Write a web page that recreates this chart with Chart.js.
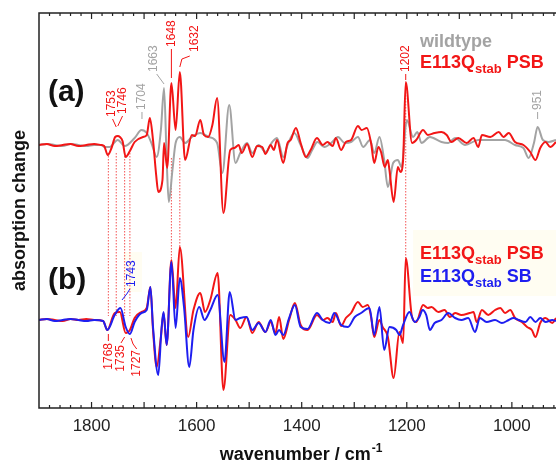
<!DOCTYPE html>
<html lang="en">
<head>
    <meta charset="UTF-8">
    <title>FTIR difference spectra</title>
    <script src="https://cdn.jsdelivr.net/npm/chart.js"></script>
    <style>
        html, body { margin: 0; padding: 0; background: #fff; }
        #wrap { width: 556px; height: 464px; }
    </style>
</head>
<body>
    <div id="wrap"><canvas id="spectra"></canvas></div>
<script>
// wavenumbers (cm-1) and absorption change for each trace
const wnRedA = [1900,1885,1870,1855,1840,1825,1810,1795,1782,1776,
    1769,1762,1755,1750,1746,1741,1735,1727,1718,1702,
    1695,1689,1683,1677,1673,1665,1662,1656,1648,1640,
    1632,1622,1609,1603,1593,1586,1578,1570,1561,1549,
    1536,1528,1520,1514,1504,1494,1485,1475,1469,1459,
    1453,1447,1435,1427,1421,1411,1402,1392,1383,1371,
    1360,1351,1341,1335,1325,1316,1306,1293,1286,1276,
    1268,1262,1254,1249,1242,1236,1233,1225,1217,1212,
    1207,1202,1190,1182,1169,1160,1147,1134,1124,1115,
    1102,1086,1073,1064,1057,1041,1025,1016,1006,994,
    978,965,955,946,936,927,916];
const redA = [0,1,-1,0,1,-1,0,1,0,-1,
    -10,-3,8,9,8,4,-12,-6,3,8,
    10,27,5,-30,-47,-35,2,-23,62,15,
    73,-15,10,9,25,10,8,20,47,-68,
    -5,-3,0,-8,1,-12,-1,-2,-9,0,
    -5,5,-18,2,5,17,2,-12,-5,7,
    0,3,-1,7,-5,3,5,19,15,17,
    2,-18,-2,-7,-22,-15,-25,-57,-22,-27,
    -15,63,2,5,15,10,12,13,10,3,
    7,2,7,-2,10,8,13,8,12,3,
    0,-7,-15,-3,3,-2,3];

const wnGrayA = [1900,1885,1870,1855,1840,1825,1810,1795,1782,1775,
    1766,1750,1737,1718,1705,1695,1686,1676,1668,1662,
    1657,1653,1646,1640,1632,1622,1609,1593,1577,1561,
    1551,1538,1526,1517,1504,1494,1482,1469,1456,1447,
    1435,1427,1414,1402,1389,1380,1370,1357,1344,1331,
    1318,1306,1293,1283,1270,1262,1252,1243,1236,1226,
    1217,1210,1200,1188,1180,1172,1156,1134,1121,1108,
    1089,1064,1038,1013,994,978,968,958,951,941,
    930,916];
const grayA = [0,1,0,-1,1,0,-1,0,0,-2,
    -2,5,-1,7,15,12,2,-12,15,57,
    -15,-57,-25,2,8,2,8,12,8,2,
    -28,40,-18,-8,2,-8,0,-7,3,7,
    -12,0,12,0,-13,-5,3,-2,2,8,
    2,3,8,-2,5,-8,8,-15,-42,-18,
    -15,-22,25,8,13,2,8,3,2,7,
    0,5,5,5,0,-3,-13,2,18,5,
    3,5];

const wnRedB = [1900,1885,1870,1855,1840,1825,1810,1795,1778,1770,
    1756,1746,1735,1727,1718,1705,1695,1688,1683,1676,
    1668,1663,1657,1648,1640,1632,1616,1606,1593,1584,
    1574,1560,1549,1536,1526,1517,1505,1494,1482,1469,
    1459,1450,1443,1435,1424,1413,1402,1389,1371,1360,
    1351,1341,1335,1325,1316,1306,1293,1284,1274,1268,
    1262,1252,1246,1236,1225,1214,1207,1202,1190,1182,
    1169,1160,1153,1140,1128,1118,1108,1096,1080,1073,
    1067,1057,1045,1032,1022,1013,1003,994,981,971,
    962,955,946,936,923,916];
const redB = [0,1,0,-1,1,0,1,0,-1,-10,
    7,8,-13,-10,2,8,12,33,-10,-47,
    -17,7,-25,60,12,73,-17,10,27,8,
    20,47,-70,5,0,-8,3,-13,-2,-12,
    -2,-13,3,-19,0,17,-5,-10,5,0,
    2,-2,7,-6,2,7,18,13,15,3,
    -17,0,-7,-17,-58,-12,-23,62,3,-2,
    15,12,13,8,10,3,7,5,7,8,
    -2,10,5,10,12,7,10,2,-2,-7,
    -10,-17,-3,2,-3,2];

const wnBlueB = [1900,1885,1870,1855,1840,1825,1810,1795,1778,1770,
    1756,1745,1735,1727,1718,1705,1695,1688,1683,1673,
    1667,1663,1657,1648,1640,1632,1624,1614,1606,1595,
    1585,1574,1560,1547,1537,1526,1517,1505,1494,1482,
    1469,1459,1450,1443,1435,1424,1413,1402,1389,1371,
    1360,1347,1338,1325,1312,1299,1287,1271,1262,1252,
    1243,1233,1220,1214,1207,1195,1185,1176,1170,1163,
    1156,1147,1134,1121,1108,1096,1083,1070,1061,1048,
    1032,1019,1006,997,987,974,965,955,946,936,
    923,916];
const blueB = [0,1,-1,0,1,0,-1,0,-1,-10,
    5,12,-7,-14,-2,7,10,33,-7,-55,
    -10,8,-25,58,-8,42,13,-47,-10,13,
    0,10,25,-42,28,0,2,3,-10,-3,
    -12,0,-15,-10,-15,2,15,-7,-9,7,
    0,-3,7,-5,-7,3,7,12,-15,13,
    -30,-7,-10,-15,-5,8,-2,3,10,5,
    -10,-3,0,7,2,0,2,-12,2,-2,
    0,-3,0,2,0,-2,3,-2,2,-2,
    0,-1];

const xTickLabels = [1800, 1600, 1400, 1200, 1000];
const markedBands = [1768, 1753, 1737, 1727];   // dotted guides between (a) and (b)

// trace (a) sits above trace (b); each is shifted by its own baseline
const BASE_A = 263, BASE_B = 88;
const RED = '#f21616', GRAY = '#a3a3a3', BLUE = '#1e1ef0';
const FONT = '"Liberation Sans", Arial, sans-serif';

function pts(wn, v, base) {
    return wn.map(function (w, i) { return { x: w, y: base + v[i] }; });
}

// peak labels: position in wavenumber / y-units, leader line points
const peakLabels = [
    { t: '1753', c: RED,  w: 1761, u: 291, lead: [[1760, 289], [1753, 281]] },
    { t: '1746', c: RED,  w: 1740, u: 294, lead: [[1741, 292], [1750, 282]] },
    { t: '1704', c: GRAY, w: 1704, u: 298, lead: [[1704, 296], [1704, 289]] },
    { t: '1663', c: GRAY, w: 1681, u: 336, lead: [[1676, 334], [1662, 324]] },
    { t: '1648', c: RED,  w: 1647, u: 361, lead: [[1648, 359], [1648, 330]] },
    { t: '1632', c: RED,  w: 1603, u: 356, lead: [[1613, 352], [1628, 349], [1632, 341]] },
    { t: '1202', c: RED,  w: 1202, u: 336, lead: [[1202, 334], [1202, 328]] },
    { t: '951',  c: GRAY, w: 951,  u: 298, lead: [[951, 296], [951, 289]] },
    { t: '1743', c: BLUE, w: 1723, u: 121, lead: [[1727, 119], [1733, 114], [1742, 108]] },
    { t: '1768', c: RED,  w: 1767, u: 65, end: true, lead: [[1768, 67], [1768, 74]] },
    { t: '1735', c: RED,  w: 1744, u: 63, end: true, lead: [[1744, 65], [1737, 71]] },
    { t: '1727', c: RED,  w: 1714, u: 58, end: true, lead: [[1714, 59], [1721, 64], [1725, 70]] }
];

const decor = {
    id: 'decor',
    beforeDatasetsDraw(chart) {
        const ctx = chart.ctx, ca = chart.chartArea;
        const X = w => chart.scales.x.getPixelForValue(w);
        const Y = u => chart.scales.y.getPixelForValue(u);
        ctx.save();
        // pale boxes behind the (b) legend and the 1743 label
        ctx.fillStyle = '#fffdf2';
        ctx.fillRect(X(1188), Y(178), ca.right - X(1188), Y(112) - Y(178));
        ctx.fillRect(X(1739), Y(156), X(1704) - X(1739), Y(116) - Y(156));
        // dotted guides
        ctx.strokeStyle = 'rgba(240,40,40,0.8)';
        ctx.lineWidth = 1;
        ctx.setLineDash([1.5, 1.5]);
        const guides = markedBands.map(w => [w, 255, 92]).concat([[1648, 250, 146], [1632, 250, 161], [1202, 325, 150]]);
        guides.forEach(function (g) {
            ctx.beginPath();
            ctx.moveTo(X(g[0]), Y(g[1]));
            ctx.lineTo(X(g[0]), Y(g[2]));
            ctx.stroke();
        });
        ctx.restore();
    },
    afterDraw(chart) {
        const ctx = chart.ctx, ca = chart.chartArea;
        const X = w => chart.scales.x.getPixelForValue(w);
        const Y = u => chart.scales.y.getPixelForValue(u);
        ctx.save();

        // frame (right side is cut off in the original)
        ctx.strokeStyle = '#222';
        ctx.lineWidth = 1.5;
        ctx.beginPath();
        ctx.moveTo(ca.right, ca.top); ctx.lineTo(ca.left, ca.top);
        ctx.lineTo(ca.left, ca.bottom); ctx.lineTo(ca.right, ca.bottom);
        ctx.stroke();

        // inward ticks, top and bottom
        ctx.lineWidth = 1.2;
        for (let w = 1880; w >= 920; w -= 20) {
            const len = (w % 100 === 0) ? 6 : 3;
            const px = X(w);
            ctx.beginPath();
            ctx.moveTo(px, ca.bottom); ctx.lineTo(px, ca.bottom - len);
            ctx.moveTo(px, ca.top); ctx.lineTo(px, ca.top + len);
            ctx.stroke();
        }

        // peak labels with leaders
        ctx.lineWidth = 1;
        peakLabels.forEach(function (p) {
            ctx.strokeStyle = p.c;
            ctx.beginPath();
            p.lead.forEach(function (q, i) {
                if (i === 0) ctx.moveTo(X(q[0]), Y(q[1]));
                else ctx.lineTo(X(q[0]), Y(q[1]));
            });
            ctx.stroke();
            ctx.save();
            ctx.translate(X(p.w), Y(p.u));
            ctx.rotate(-Math.PI / 2);
            ctx.fillStyle = p.c;
            ctx.font = '12px ' + FONT;
            ctx.textAlign = p.end ? 'right' : 'left';
            ctx.textBaseline = 'middle';
            ctx.fillText(p.t, 0, 0);
            ctx.restore();
        });

        // legend-like labels with subscripts
        function rich(parts, x, y, color) {
            ctx.fillStyle = color;
            ctx.textAlign = 'left';
            ctx.textBaseline = 'alphabetic';
            parts.forEach(function (s) {
                ctx.font = 'bold ' + s[1] + 'px ' + FONT;
                ctx.fillText(s[0], x, y + (s[2] || 0));
                x += ctx.measureText(s[0]).width;
            });
        }
        const lx = X(1175);
        rich([['wildtype', 18]], lx, Y(361), GRAY);
        rich([['E113Q', 18], ['stab', 13, 5], [' PSB', 18]], lx, Y(340), RED);
        rich([['E113Q', 18], ['stab', 13, 5], [' PSB', 18]], lx, Y(149), RED);
        rich([['E113Q', 18], ['stab', 13, 5], [' SB', 18]], lx, Y(126), BLUE);

        // panel letters
        ctx.fillStyle = '#111';
        ctx.font = 'bold 30px ' + FONT;
        ctx.fillText('(a)', X(1883), Y(307));
        ctx.fillText('(b)', X(1883), Y(119));

        // axis titles
        ctx.save();
        ctx.translate(20, (ca.top + ca.bottom) / 2);
        ctx.rotate(-Math.PI / 2);
        ctx.font = 'bold 18px ' + FONT;
        ctx.textAlign = 'center';
        ctx.textBaseline = 'middle';
        ctx.fillText('absorption change', 0, 0);
        ctx.restore();

        ctx.font = 'bold 18px ' + FONT;
        const mainT = 'wavenumber / cm';
        const wMain = ctx.measureText(mainT).width;
        ctx.font = 'bold 12px ' + FONT;
        const wSup = ctx.measureText('-1').width;
        let tx = (ca.left + ca.right) / 2 + 3 - (wMain + wSup) / 2;
        ctx.font = 'bold 18px ' + FONT;
        ctx.fillText(mainT, tx, 460);
        ctx.font = 'bold 12px ' + FONT;
        ctx.fillText('-1', tx + wMain + 1, 452);

        ctx.restore();
    }
};

Chart.defaults.font.family = FONT;

new Chart(document.getElementById('spectra'), {
    type: 'line',
    data: {
        datasets: [
            { label: 'E113Qstab PSB (a)', data: pts(wnRedA, redA, BASE_A), borderColor: RED, order: 1 },
            { label: 'wildtype', data: pts(wnGrayA, grayA, BASE_A), borderColor: GRAY, order: 2 },
            { label: 'E113Qstab SB', data: pts(wnBlueB, blueB, BASE_B), borderColor: BLUE, order: 3 },
            { label: 'E113Qstab PSB (b)', data: pts(wnRedB, redB, BASE_B), borderColor: RED, order: 4 }
        ].map(function (d) {
            return Object.assign(d, { borderWidth: 2, pointRadius: 0, fill: false, cubicInterpolationMode: 'monotone' });
        })
    },
    options: {
        responsive: true,
        maintainAspectRatio: false,
        animation: false,
        layout: { padding: { left: 39, top: 13, right: 0, bottom: 0 } },
        plugins: { legend: { display: false }, tooltip: { enabled: false } },
        scales: {
            x: {
                type: 'linear',
                reverse: true,
                min: 916,
                max: 1900,
                afterBuildTicks: function (s) { s.ticks = xTickLabels.map(v => ({ value: v })); },
                afterFit: function (s) { s.height = 56; },
                grid: { display: false, drawTicks: false },
                border: { display: false },
                ticks: { color: '#222', font: { size: 17 }, padding: 8, maxRotation: 0,
                         callback: function (v) { return String(v); } }
            },
            y: { display: false, min: 0, max: 395 }
        }
    },
    plugins: [decor]
});
</script>
</body>
</html>
